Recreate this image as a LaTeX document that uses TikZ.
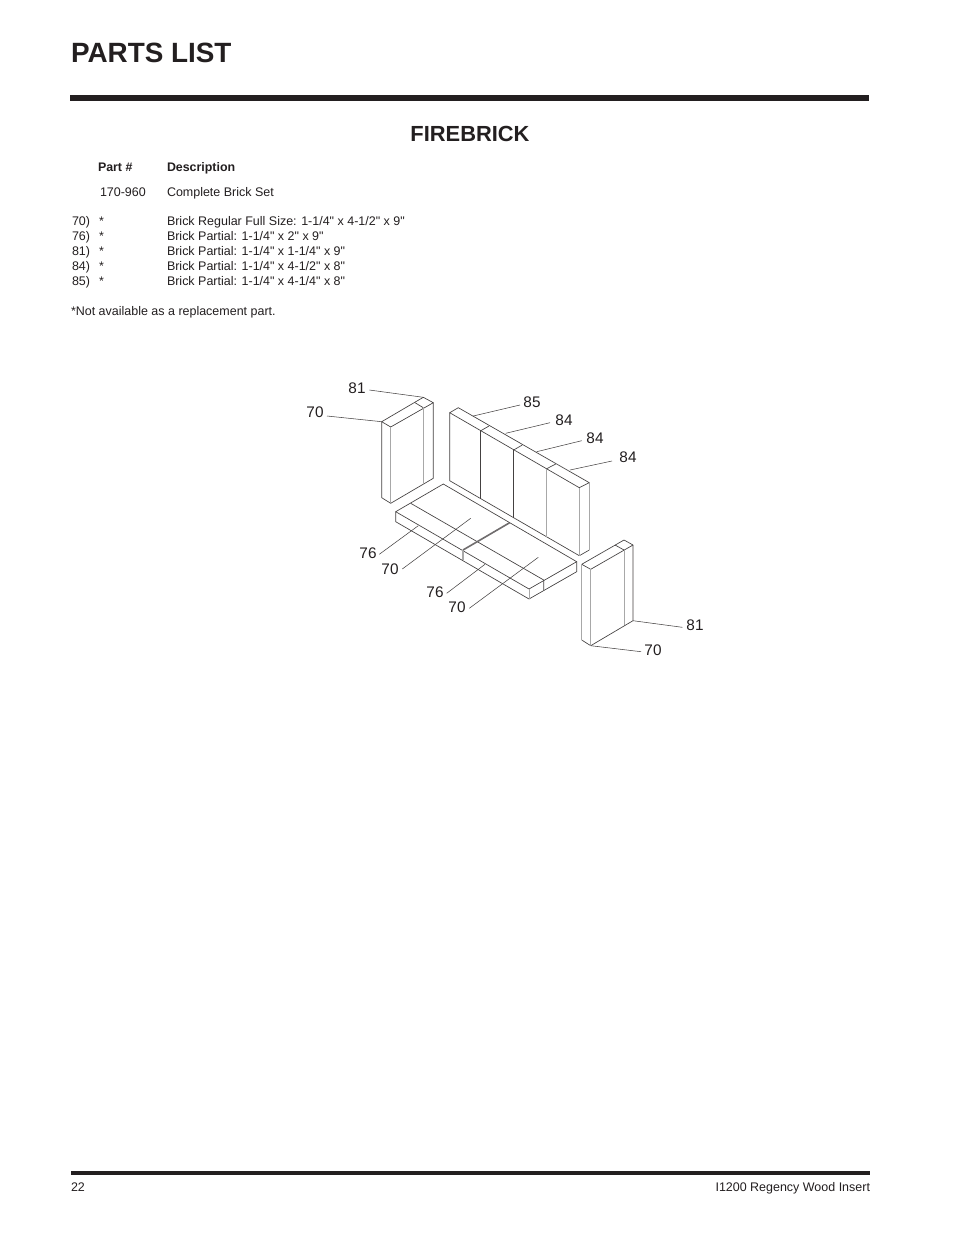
\documentclass[tikz,border=0pt]{standalone}
\usepackage{fontspec}
\setmainfont{Liberation Sans}[Ligatures=TeXOff]
\definecolor{ink}{HTML}{231F20}
\definecolor{pale}{HTML}{A8A8A8}
\tikzset{
  txt/.style={anchor=base west,inner sep=0pt,outer sep=0pt,text=ink,font=\fontsize{9.36pt}{11pt}\selectfont},
  txtb/.style={txt,font=\fontsize{9.3pt}{11pt}\selectfont\bfseries},
  callout/.style={anchor=center,inner sep=0pt,text=ink,font=\fontsize{11.5pt}{13pt}\selectfont},
  edge/.style={draw=ink!85,line width=0.5pt,line join=round},
  soft/.style={draw=pale,line width=0.6pt},
  leader/.style={draw=ink!85,line width=0.4pt},
  bar/.style={fill=ink,draw=none}
}
\begin{document}
\begin{tikzpicture}[x=0.75pt,y=-0.75pt]
\useasboundingbox (0,0) rectangle (954,1235);
\fill[white] (0,0) rectangle (954,1235);
% headings
\node[txtb,font=\fontsize{20.9pt}{26pt}\selectfont\bfseries] (title) at (71,62.5) {PARTS LIST};
\fill[bar] (70,95) rectangle (869,101);
\node[txtb,font=\fontsize{16.4pt}{20pt}\selectfont\bfseries,anchor=base] (sub) at (470,141) {FIREBRICK};
\node[txtb] (hp) at (98,171) {Part \#};
\node[txtb] (hd) at (167,171) {Description};
\node[txt] (s1) at (100,196) {170-960};
\node[txt] (s2) at (167,196) {Complete Brick Set};
\node[txt] (n1) at (72,225) {70)}; \node[txt] (a1) at (99,225) {*}; \node[txt] (d1) at (167,225) {Brick Regular Full Size: 1-1/4" x 4-1/2" x 9"};
\node[txt] (n2) at (72,240) {76)}; \node[txt] (a2) at (99,240) {*}; \node[txt] (d2) at (167,240) {Brick Partial: 1-1/4" x 2" x 9"};
\node[txt] (n3) at (72,255) {81)}; \node[txt] (a3) at (99,255) {*}; \node[txt] (d3) at (167,255) {Brick Partial: 1-1/4" x 1-1/4" x 9"};
\node[txt] (n4) at (72,270) {84)}; \node[txt] (a4) at (99,270) {*}; \node[txt] (d4) at (167,270) {Brick Partial: 1-1/4" x 4-1/2" x 8"};
\node[txt] (n5) at (72,285) {85)}; \node[txt] (a5) at (99,285) {*}; \node[txt] (d5) at (167,285) {Brick Partial: 1-1/4" x 4-1/4" x 8"};
\node[txt] (note) at (71,315) {*Not available as a replacement part.};
% footer
\fill[bar] (71,1171) rectangle (870,1175);
\node[txt] (pg) at (71,1191) {22};
\node[txt,anchor=base east] (doc) at (870,1191) {I1200 Regency Wood Insert};
% left brick
\draw[edge] (381.7,421.7) -- (423.3,397.3) -- (433.3,402.7) -- (390.7,427) -- cycle;
\draw[edge] (415,402.7) -- (423.3,407.7);
\draw[edge] (381.7,421.7) -- (381.7,497.7) -- (390.7,503.3) -- (433.3,478.3) -- (433.3,402.7);
\draw[soft] (390.7,427) -- (390.7,503.3);
\draw[soft] (423.3,407.7) -- (423.3,484);
% back wall
\draw[edge] (449.7,412.7) -- (458.3,407.7) -- (589.3,482.7) -- (579.3,487.7) -- cycle;
\draw[edge] (449.7,412.7) -- (449.7,480.7) -- (579.3,555.7) -- (589.3,550);
\draw[soft] (589.3,482.7) -- (589.3,550);
\draw[soft] (579.3,487.7) -- (579.3,555.7);
\draw[edge] (480.3,431) -- (489,426);
\draw[edge] (513.7,450) -- (522.3,445);
\draw[edge] (546.7,468.7) -- (555.7,464);
\draw[edge] (480.3,431) -- (480.3,499);
\draw[edge] (513.7,450) -- (513.7,517.7);
\draw[soft] (546.7,468.7) -- (546.7,536.7);
% floor
\draw[edge] (395.7,511.7) -- (443.3,484) -- (576.7,561.7) -- (529,589) -- cycle;
\draw[edge] (395.7,511.7) -- (395.7,521.7) -- (529,599) -- (576.7,571.7) -- (576.7,561.7);
\draw[soft] (529,589) -- (529,599);
\draw[edge] (410.7,503.3) -- (543.7,580) -- (543.7,590);
\draw[soft,line width=1.3pt] (463,550) -- (463,560);
\draw[ink!65,line width=1.2pt] (463,550) -- (509.5,522.8);
% right brick
\draw[edge] (581.7,564.3) -- (624,540) -- (633,545) -- (590.7,569.3) -- cycle;
\draw[edge] (615,545) -- (624,550);
\draw[edge] (633,545) -- (633,620.7) -- (590.7,645.7) -- (581.7,640);
\draw[soft] (581.7,564.3) -- (581.7,640);
\draw[soft] (590.7,569.3) -- (590.7,645.7);
\draw[soft] (624,550) -- (624,625);
% callouts
\node[callout] (c81a) at (357,388) {81};
\node[callout] (c70a) at (315,412.5) {70};
\node[callout] (c85) at (532,402) {85};
\node[callout] (c84a) at (564,420) {84};
\node[callout] (c84b) at (595,438) {84};
\node[callout] (c84c) at (628,457) {84};
\node[callout] (c76a) at (368,553) {76};
\node[callout] (c70b) at (390,569) {70};
\node[callout] (c76b) at (435,592) {76};
\node[callout] (c70c) at (457,607.5) {70};
\node[callout] (c81b) at (695,625) {81};
\node[callout] (c70d) at (653,650) {70};
% leader ends
\coordinate (s81a) at (369.3,390); \coordinate (e81a) at (423.3,397.3);
\coordinate (s70a) at (327,416);   \coordinate (e70a) at (381.7,421.7);
\coordinate (s85) at (520,405);    \coordinate (e85) at (473.3,416);
\coordinate (s84a) at (550,422.7); \coordinate (e84a) at (505.7,433.3);
\coordinate (s84b) at (581.7,440.7); \coordinate (e84b) at (536.7,451.7);
\coordinate (s84c) at (612,461);   \coordinate (e84c) at (570,470);
\coordinate (s76a) at (379.3,554.3); \coordinate (e76a) at (418.3,525.7);
\coordinate (s70b) at (402.3,569); \coordinate (e70b) at (470.7,518.3);
\coordinate (s76b) at (446.7,593.3); \coordinate (e76b) at (485,564.3);
\coordinate (s70c) at (469.3,608.3); \coordinate (e70c) at (538.3,557.3);
\coordinate (s81b) at (682.3,627.3); \coordinate (e81b) at (633,620.7);
\coordinate (s70d) at (641,651.7); \coordinate (e70d) at (590.7,645.7);
\foreach \k in {81a,70a,85,84a,84b,84c,76a,70b,76b,70c,81b,70d}
  \draw[leader] (s\k) -- (e\k);
\end{tikzpicture}
\end{document}
